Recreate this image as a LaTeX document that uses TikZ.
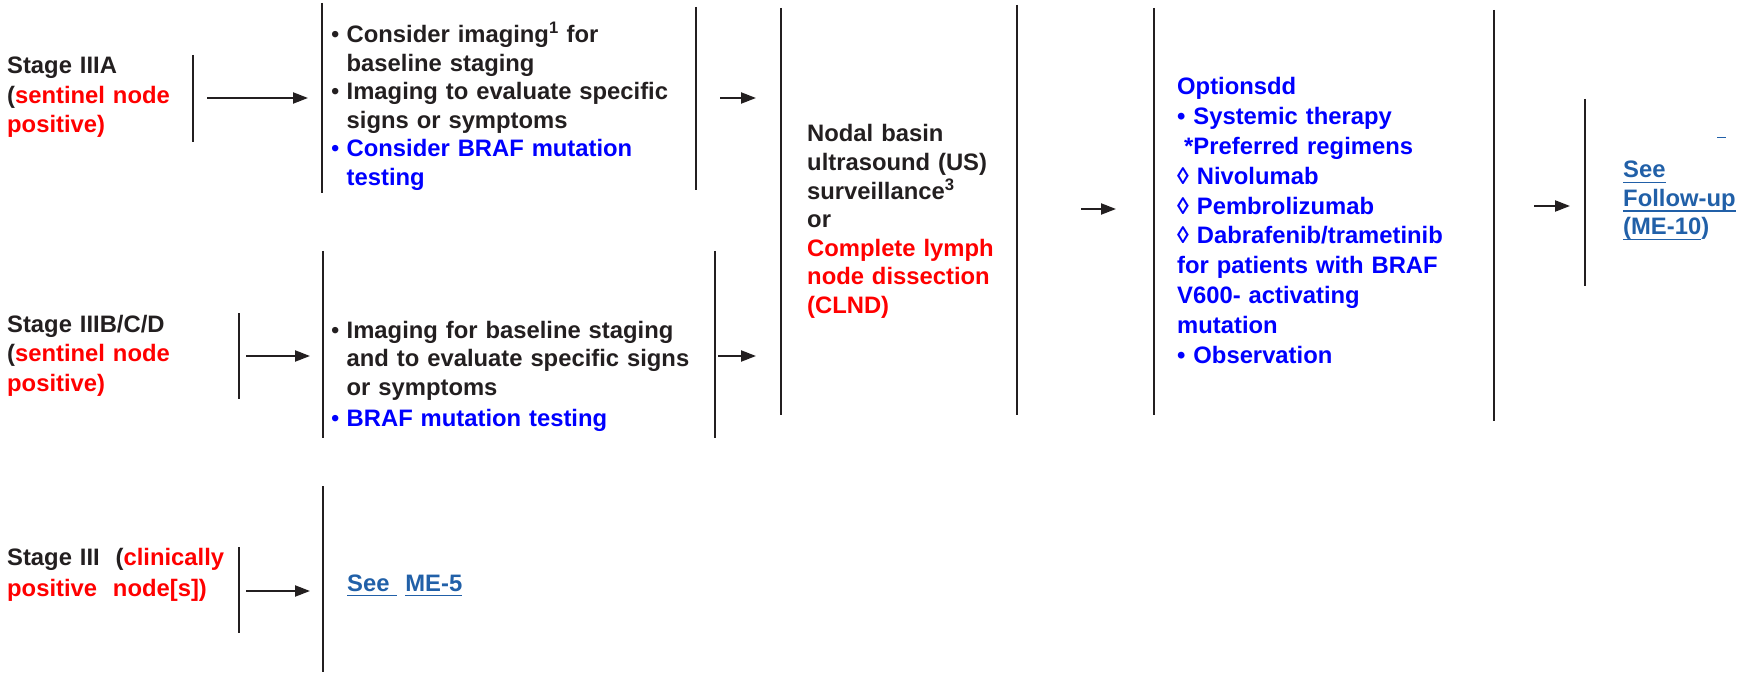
\documentclass[tikz,border=0pt]{standalone}
\usepackage{fontspec}
\setmainfont{Liberation Sans}
\usetikzlibrary{arrows.meta}

\definecolor{ink}{HTML}{231F20}
\definecolor{txtred}{HTML}{FF0000}
\definecolor{txtblue}{HTML}{0000FF}
\definecolor{linkblue}{HTML}{2160A8}

% underlined link text
\newsavebox{\lnkbox}
\newcommand{\lnk}[1]{\leavevmode\sbox{\lnkbox}{#1}\rlap{\rule[-5.1pt]{\wd\lnkbox}{1.1pt}}\usebox{\lnkbox}}
% bullet with hanging indent
\newcommand{\bitem}{\makebox[15.5pt][l]{\mdseries\textbullet}}
\newcommand{\bcont}{\hspace*{15.5pt}}

\tikzset{
  txt/.style   = {anchor=base west, inner sep=0pt, align=left, text=ink, text width=300pt},
  stage/.style = {txt, font=\bfseries\fontsize{23.8}{29.5}\selectfont},
  work/.style  = {txt, text width=370pt, font=\bfseries\fontsize{23.8}{28.5}\selectfont},
  mid/.style   = {txt, text width=200pt, font=\bfseries\fontsize{23.8}{28.6}\selectfont},
  opt/.style   = {txt, text=txtblue, font=\bfseries\fontsize{23.8}{29.8}\selectfont},
  link/.style  = {txt, text width=150pt, text=linkblue, font=\bfseries\fontsize{23.8}{28.5}\selectfont},
  bar/.style   = {draw=ink, line width=2.7pt},
  arr/.style   = {draw=ink, line width=2.2pt, -{Triangle[length=15pt,width=11pt]}}
}

\begin{document}
\begin{tikzpicture}[x=1pt, y=-1pt]
\useasboundingbox (0,0) rectangle (1752,676);

% stages, first column
\node[stage] (sA) at (7,74) {Stage IIIA\\
  (\textcolor{txtred}{sentinel node}\\
  \textcolor{txtred}{positive)}};
\node[stage] (sB) at (7,332) {Stage IIIB/C/D\\
  (\textcolor{txtred}{sentinel node}\\
  \textcolor{txtred}{positive)}};
\node[stage, font=\bfseries\fontsize{23.8}{31}\selectfont] (sC) at (7,565) {Stage III\ \ (\textcolor{txtred}{clinically}\\
  \textcolor{txtred}{positive\ \ node[s])}};

% workup, second column
\node[work] (wA) at (331,43) {\bitem Consider imaging\textsuperscript{1} for\\
  \bcont baseline staging\\
  \bitem Imaging to evaluate specific\\
  \bcont signs or symptoms\\
  \textcolor{txtblue}{\bitem Consider BRAF mutation}\\
  \textcolor{txtblue}{\bcont testing}};
\node[work] (wB) at (331,338) {\bitem Imaging for baseline staging\\
  \bcont and to evaluate specific signs\\
  \bcont or symptoms\\[2.5pt]
  \textcolor{txtblue}{\bitem BRAF mutation testing}};
\node[link] (wC) at (347,591) {\lnk{See\ }\ \lnk{ME-5}};

% treatment columns
\node[mid] (nb) at (807,142) {Nodal basin\\
  ultrasound (US)\\
  surveillance\textsuperscript{3}\\
  or\\
  \textcolor{txtred}{Complete lymph}\\
  \textcolor{txtred}{node dissection}\\
  \textcolor{txtred}{(CLND)}};
\node[opt] (op) at (1177,95) {Optionsdd\\
  \textbullet\ Systemic therapy\\
  \hspace*{7pt}*Preferred regimens\\
  ◊ Nivolumab\\
  ◊ Pembrolizumab\\
  ◊ Dabrafenib/trametinib\\
  for patients with BRAF\\
  V600- activating\\
  mutation\\
  \textbullet\ Observation};

% follow-up
\node[link] (dash) at (1717,133) {\lnk{\phantom{r}}};
\node[link] (fu) at (1623,178) {\lnk{See}\\
  \lnk{Follow-up}\\
  \lnk{(ME-10})};

% vertical bars
\foreach \x/\ya/\yb in {193/55/142, 322/3/193, 696/7/190,
                        239/313/399, 323/251/438, 715/251/438,
                        239/547/633, 323/486/672,
                        781/8/415, 1017/5/415, 1154/8/415,
                        1494/10/421, 1585/99/286}
  \draw[bar] (\x,\ya) -- (\x,\yb);

% arrows between the bars
\foreach \n/\xs/\xe/\y in {1/207/308/98, 2/720/756/98,
                           3/246/310/356, 4/718/756/356,
                           5/246/310/591,
                           6/1081/1116/209, 7/1534/1570/206}
{
  \coordinate (a\n s) at (\xs,\y);
  \coordinate (a\n e) at (\xe,\y);
  \draw[arr] (a\n s) -- (a\n e);
}
\end{tikzpicture}
\end{document}
